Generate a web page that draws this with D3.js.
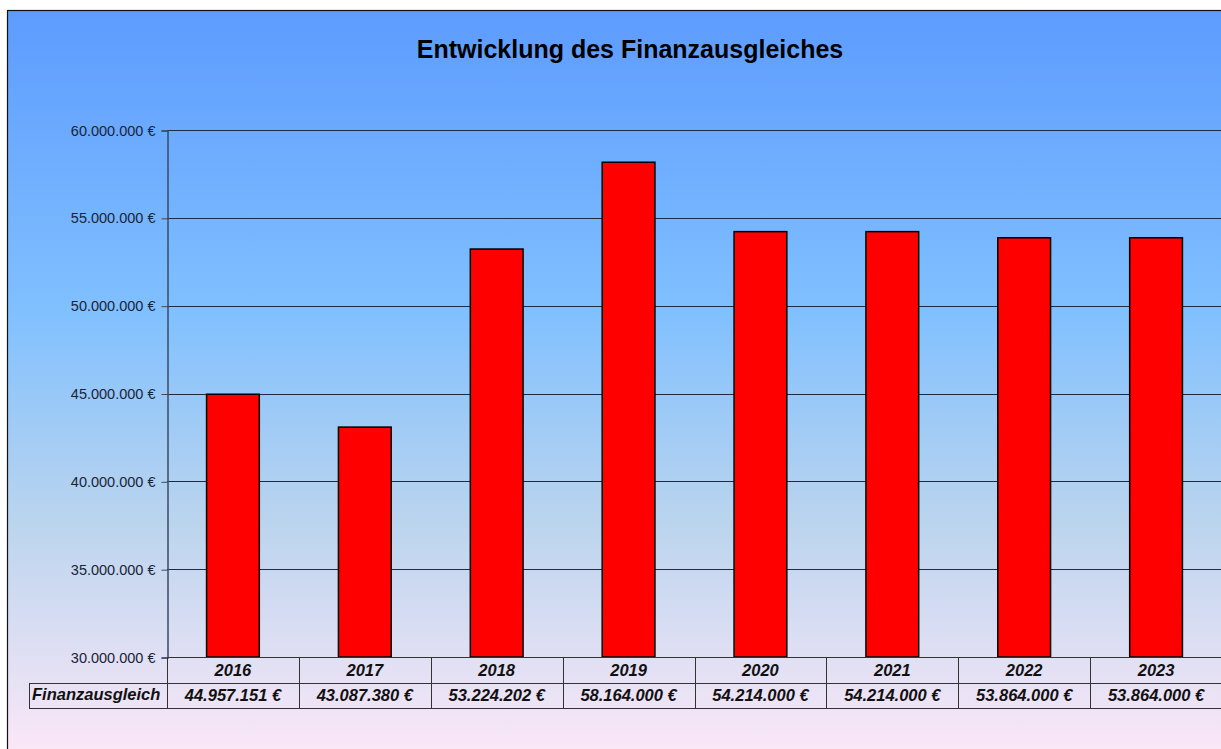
<!DOCTYPE html>
<html>
<head>
<meta charset="utf-8">
<script src="https://cdn.jsdelivr.net/npm/d3@7"></script>
<style>
  body { margin: 0; background: #fff; overflow: hidden; }
  text { font-family: "Liberation Sans", Arial, sans-serif; }
</style>
</head>
<body>
<div id="chart"></div>
<script>
// data
var years = ["2016", "2017", "2018", "2019", "2020", "2021", "2022", "2023"];
var values = [44957151, 43087380, 53224202, 58164000, 54214000, 54214000, 53864000, 53864000];
var seriesName = "Finanzausgleich";
var yTicks = [30000000, 35000000, 40000000, 45000000, 50000000, 55000000, 60000000];

var W = 1221, H = 749;
var plotLeft = 167, plotRight = 1222, plotTop = 130, plotBottom = 657;

var svg = d3.select("#chart").append("svg")
    .attr("width", W)
    .attr("height", H);

// background gradient
var grad = svg.append("defs").append("linearGradient")
    .attr("id", "bg")
    .attr("x1", 0).attr("y1", 0).attr("x2", 0).attr("y2", 1);
grad.append("stop").attr("offset", "0%").attr("stop-color", "#5d9bfe");
grad.append("stop").attr("offset", "40%").attr("stop-color", "#80c0ff");
grad.append("stop").attr("offset", "68%").attr("stop-color", "#bad4ee");
grad.append("stop").attr("offset", "100%").attr("stop-color", "#fde8f8");

svg.append("rect")
    .attr("x", 7.5).attr("y", 10.5)
    .attr("width", W).attr("height", H)
    .attr("fill", "url(#bg)")
    .attr("stroke", "#111")
    .attr("stroke-width", 1.2);

// title
svg.append("text")
    .attr("x", 630).attr("y", 58)
    .attr("text-anchor", "middle")
    .attr("font-size", "25px")
    .attr("font-weight", "bold")
    .attr("fill", "#000")
    .text("Entwicklung des Finanzausgleiches");

var x = d3.scaleBand()
    .domain(years)
    .range([plotLeft, plotRight])
    .paddingInner(0)
    .paddingOuter(0);

var y = d3.scaleLinear()
    .domain([30000000, 60000000])
    .range([plotBottom, plotTop]);

var fmt = function(d) {
    return d3.format(",")(d).replace(/,/g, ".") + " \u20AC";
};

// gridlines
svg.append("g")
    .selectAll("line")
    .data(yTicks)
    .enter()
    .append("line")
    .attr("x1", plotLeft)
    .attr("x2", W)
    .attr("y1", function(d) { return Math.round(y(d)) + 0.5; })
    .attr("y2", function(d) { return Math.round(y(d)) + 0.5; })
    .attr("stroke", "#1c2c44")
    .attr("stroke-width", 1);

// y axis
var yAxis = d3.axisLeft(y)
    .tickValues(yTicks)
    .tickSize(6)
    .tickPadding(6)
    .tickFormat(fmt);

var ya = svg.append("g")
    .attr("transform", "translate(" + (plotLeft + 0.5) + ",0.5)")
    .attr("font-size", null)
    .attr("font-family", null)
    .call(yAxis);
ya.select(".domain").attr("stroke", "#3a4a66").attr("stroke-width", 1.5);
ya.selectAll(".tick line").attr("stroke", "#3a4a66");
ya.selectAll(".tick text")
    .style("font-size", "14.5px")
    .style("font-family", "'Liberation Sans', Arial, sans-serif")
    .attr("fill", "#1a2438");

// bars
var barW = x.bandwidth() * 0.4;
svg.append("g")
    .selectAll("rect")
    .data(values)
    .enter()
    .append("rect")
    .attr("x", function(d, i) { return x(years[i]) + (x.bandwidth() - barW) / 2; })
    .attr("y", function(d) { return y(d); })
    .attr("width", barW)
    .attr("height", function(d) { return plotBottom - y(d); })
    .attr("fill", "#ff0000")
    .attr("stroke", "#000")
    .attr("stroke-width", 1.5);

// data table
var row1 = plotBottom, row2 = 683, row3 = 708;
var tbl = svg.append("g").attr("stroke", "#333").attr("stroke-width", 1).attr("fill", "none");

tbl.append("line").attr("x1", plotLeft).attr("x2", W).attr("y1", row1 + 0.5).attr("y2", row1 + 0.5);
tbl.append("line").attr("x1", 29).attr("x2", W).attr("y1", row2 + 0.5).attr("y2", row2 + 0.5);
tbl.append("line").attr("x1", 29).attr("x2", W).attr("y1", row3 + 0.5).attr("y2", row3 + 0.5);
tbl.append("line").attr("x1", 29.5).attr("x2", 29.5).attr("y1", row2).attr("y2", row3);

tbl.selectAll(".sep")
    .data(years)
    .enter()
    .append("line")
    .attr("x1", function(d) { return Math.round(x(d)) + 0.5; })
    .attr("x2", function(d) { return Math.round(x(d)) + 0.5; })
    .attr("y1", row1)
    .attr("y2", row3);

svg.append("g")
    .selectAll("text")
    .data(years)
    .enter()
    .append("text")
    .attr("x", function(d) { return x(d) + x.bandwidth() / 2; })
    .attr("y", row1 + 19)
    .attr("text-anchor", "middle")
    .attr("font-size", "16.5px")
    .attr("font-weight", "bold")
    .attr("font-style", "italic")
    .attr("fill", "#111")
    .text(function(d) { return d; });

svg.append("g")
    .selectAll("text")
    .data(values)
    .enter()
    .append("text")
    .attr("x", function(d, i) { return x(years[i]) + x.bandwidth() / 2; })
    .attr("y", row2 + 18)
    .attr("text-anchor", "middle")
    .attr("font-size", "16.5px")
    .attr("font-weight", "bold")
    .attr("font-style", "italic")
    .attr("fill", "#111")
    .text(function(d) { return fmt(d); });

svg.append("text")
    .attr("x", 32)
    .attr("y", row2 + 17)
    .attr("font-size", "16.5px")
    .attr("font-weight", "bold")
    .attr("font-style", "italic")
    .attr("fill", "#111")
    .text(seriesName);
</script>
</body>
</html>
